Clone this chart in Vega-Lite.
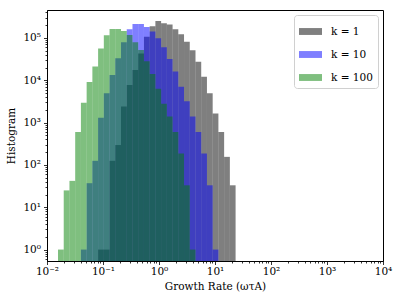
{
  "$schema": "https://vega.github.io/schema/vega-lite/v6.json",
  "width": 336,
  "height": 251,
  "autosize": {"type": "none"},
  "padding": {"left": 47, "top": 10, "right": 16, "bottom": 40},
  "config": {
    "view": {"stroke": "black", "strokeWidth": 1},
    "font": "DejaVu Serif",
    "axis": {
      "grid": false,
      "domainColor": "black",
      "tickColor": "black",
      "labelColor": "black",
      "titleColor": "black",
      "labelFont": "DejaVu Serif",
      "titleFont": "DejaVu Serif",
      "labelFontSize": 10.5,
      "titleFontSize": 10.5,
      "titleFontWeight": "normal",
      "labelOverlap": false,
      "labelFlush": false,
      "labelBound": false,
      "tickWidth": 0.8
    },
    "legend": {
      "labelFont": "DejaVu Serif",
      "labelFontSize": 10.5,
      "labelColor": "black"
    }
  },
  "data": {
    "values": [
      {"k": "k = 1", "lo": 0.08177, "hi": 0.10347, "count": 1},
      {"k": "k = 1", "lo": 0.10347, "hi": 0.13096, "count": 1},
      {"k": "k = 1", "lo": 0.13096, "hi": 0.16574, "count": 125},
      {"k": "k = 1", "lo": 0.16574, "hi": 0.20977, "count": 295},
      {"k": "k = 1", "lo": 0.20977, "hi": 0.26546, "count": 2400},
      {"k": "k = 1", "lo": 0.26546, "hi": 0.33597, "count": 7700},
      {"k": "k = 1", "lo": 0.33597, "hi": 0.42521, "count": 17400},
      {"k": "k = 1", "lo": 0.42521, "hi": 0.53816, "count": 43000},
      {"k": "k = 1", "lo": 0.53816, "hi": 0.68108, "count": 107000},
      {"k": "k = 1", "lo": 0.68108, "hi": 0.86196, "count": 190000},
      {"k": "k = 1", "lo": 0.86196, "hi": 1.0909, "count": 251000},
      {"k": "k = 1", "lo": 1.0909, "hi": 1.3807, "count": 221000},
      {"k": "k = 1", "lo": 1.3807, "hi": 1.7474, "count": 209000},
      {"k": "k = 1", "lo": 1.7474, "hi": 2.2115, "count": 160000},
      {"k": "k = 1", "lo": 2.2115, "hi": 2.799, "count": 122000},
      {"k": "k = 1", "lo": 2.799, "hi": 3.5424, "count": 81000},
      {"k": "k = 1", "lo": 3.5424, "hi": 4.4832, "count": 51000},
      {"k": "k = 1", "lo": 4.4832, "hi": 5.6741, "count": 27500},
      {"k": "k = 1", "lo": 5.6741, "hi": 7.1812, "count": 12100},
      {"k": "k = 1", "lo": 7.1812, "hi": 9.0884, "count": 4900},
      {"k": "k = 1", "lo": 9.0884, "hi": 11.503, "count": 1650},
      {"k": "k = 1", "lo": 11.503, "hi": 14.558, "count": 600},
      {"k": "k = 1", "lo": 14.558, "hi": 18.425, "count": 155},
      {"k": "k = 1", "lo": 18.425, "hi": 23.318, "count": 33},
      {"k": "k = 10", "lo": 0.04033, "hi": 0.05104, "count": 1},
      {"k": "k = 10", "lo": 0.05104, "hi": 0.0646, "count": 37},
      {"k": "k = 10", "lo": 0.0646, "hi": 0.08177, "count": 125},
      {"k": "k = 10", "lo": 0.08177, "hi": 0.10347, "count": 1300},
      {"k": "k = 10", "lo": 0.10347, "hi": 0.13096, "count": 4900},
      {"k": "k = 10", "lo": 0.13096, "hi": 0.16574, "count": 13300},
      {"k": "k = 10", "lo": 0.16574, "hi": 0.20977, "count": 33000},
      {"k": "k = 10", "lo": 0.20977, "hi": 0.26546, "count": 78600},
      {"k": "k = 10", "lo": 0.26546, "hi": 0.33597, "count": 160000},
      {"k": "k = 10", "lo": 0.33597, "hi": 0.42521, "count": 212000},
      {"k": "k = 10", "lo": 0.42521, "hi": 0.53816, "count": 214000},
      {"k": "k = 10", "lo": 0.53816, "hi": 0.68108, "count": 182000},
      {"k": "k = 10", "lo": 0.68108, "hi": 0.86196, "count": 141000},
      {"k": "k = 10", "lo": 0.86196, "hi": 1.0909, "count": 98000},
      {"k": "k = 10", "lo": 1.0909, "hi": 1.3807, "count": 60000},
      {"k": "k = 10", "lo": 1.3807, "hi": 1.7474, "count": 32000},
      {"k": "k = 10", "lo": 1.7474, "hi": 2.2115, "count": 16000},
      {"k": "k = 10", "lo": 2.2115, "hi": 2.799, "count": 7000},
      {"k": "k = 10", "lo": 2.799, "hi": 3.5424, "count": 3200},
      {"k": "k = 10", "lo": 3.5424, "hi": 4.4832, "count": 1400},
      {"k": "k = 10", "lo": 4.4832, "hi": 5.6741, "count": 600},
      {"k": "k = 10", "lo": 5.6741, "hi": 7.1812, "count": 186},
      {"k": "k = 10", "lo": 7.1812, "hi": 9.0884, "count": 33},
      {"k": "k = 10", "lo": 9.0884, "hi": 11.503, "count": 1},
      {"k": "k = 100", "lo": 0.01572, "hi": 0.01989, "count": 1},
      {"k": "k = 100", "lo": 0.01989, "hi": 0.02518, "count": 25},
      {"k": "k = 100", "lo": 0.02518, "hi": 0.03187, "count": 42},
      {"k": "k = 100", "lo": 0.03187, "hi": 0.04033, "count": 600},
      {"k": "k = 100", "lo": 0.04033, "hi": 0.05104, "count": 2950},
      {"k": "k = 100", "lo": 0.05104, "hi": 0.0646, "count": 9100},
      {"k": "k = 100", "lo": 0.0646, "hi": 0.08177, "count": 21000},
      {"k": "k = 100", "lo": 0.08177, "hi": 0.10347, "count": 56000},
      {"k": "k = 100", "lo": 0.10347, "hi": 0.13096, "count": 115000},
      {"k": "k = 100", "lo": 0.13096, "hi": 0.16574, "count": 162000},
      {"k": "k = 100", "lo": 0.16574, "hi": 0.20977, "count": 162000},
      {"k": "k = 100", "lo": 0.20977, "hi": 0.26546, "count": 145000},
      {"k": "k = 100", "lo": 0.26546, "hi": 0.33597, "count": 117000},
      {"k": "k = 100", "lo": 0.33597, "hi": 0.42521, "count": 79000},
      {"k": "k = 100", "lo": 0.42521, "hi": 0.53816, "count": 52000},
      {"k": "k = 100", "lo": 0.53816, "hi": 0.68108, "count": 28000},
      {"k": "k = 100", "lo": 0.68108, "hi": 0.86196, "count": 14000},
      {"k": "k = 100", "lo": 0.86196, "hi": 1.0909, "count": 6300},
      {"k": "k = 100", "lo": 1.0909, "hi": 1.3807, "count": 2800},
      {"k": "k = 100", "lo": 1.3807, "hi": 1.7474, "count": 1400},
      {"k": "k = 100", "lo": 1.7474, "hi": 2.2115, "count": 600},
      {"k": "k = 100", "lo": 2.2115, "hi": 2.799, "count": 186},
      {"k": "k = 100", "lo": 2.799, "hi": 3.5424, "count": 33},
      {"k": "k = 100", "lo": 3.5424, "hi": 4.4832, "count": 1}
    ]
  },
  "mark": {"type": "bar", "opacity": 0.5},
  "encoding": {
    "x": {
      "field": "lo",
      "type": "quantitative",
      "title": "Growth Rate (ωτA)",
      "scale": {"type": "log", "domain": [0.01, 10000], "nice": false},
      "axis": {
        "values": [0.01,0.02,0.03,0.04,0.05,0.06,0.07,0.08,0.09,0.1,0.2,0.3,0.4,0.5,0.6,0.7,0.8,0.9,1,2,3,4,5,6,7,8,9,10,20,30,40,50,60,70,80,90,100,200,300,400,500,600,700,800,900,1000,2000,3000,4000,5000,6000,7000,8000,9000,10000],
        "labelExpr": "abs(log(datum.value)/LN10 - round(log(datum.value)/LN10)) < 0.001 ? '10' + replace(replace(replace(replace(replace(replace(replace(replace('' + round(log(datum.value)/LN10), '-', '⁻'), '0', '⁰'), '1', '¹'), '2', '²'), '3', '³'), '4', '⁴'), '5', '⁵'), '6', '⁶') : ''",
        "tickSize": {"condition": {"test": "abs(log(datum.value)/LN10 - round(log(datum.value)/LN10)) < 0.001", "value": 3.5}, "value": 2},
        "labelPadding": 2,
        "titlePadding": 4
      }
    },
    "x2": {"field": "hi"},
    "y": {
      "field": "count",
      "type": "quantitative",
      "title": "Histogram",
      "scale": {"type": "log", "domain": [0.537, 457000], "nice": false},
      "axis": {
        "values": [0.6,0.7,0.8,0.9,1,2,3,4,5,6,7,8,9,10,20,30,40,50,60,70,80,90,100,200,300,400,500,600,700,800,900,1000,2000,3000,4000,5000,6000,7000,8000,9000,10000,20000,30000,40000,50000,60000,70000,80000,90000,100000,200000,300000,400000],
        "labelExpr": "abs(log(datum.value)/LN10 - round(log(datum.value)/LN10)) < 0.001 ? '10' + replace(replace(replace(replace(replace(replace(replace(replace('' + round(log(datum.value)/LN10), '-', '⁻'), '0', '⁰'), '1', '¹'), '2', '²'), '3', '³'), '4', '⁴'), '5', '⁵'), '6', '⁶') : ''",
        "tickSize": {"condition": {"test": "abs(log(datum.value)/LN10 - round(log(datum.value)/LN10)) < 0.001", "value": 3.5}, "value": 2},
        "labelPadding": 3,
        "titlePadding": 6
      }
    },
    "y2": {"datum": 0.537},
    "color": {
      "field": "k",
      "type": "nominal",
      "scale": {"domain": ["k = 1", "k = 10", "k = 100"], "range": ["#000000", "#0000ff", "#008000"]},
      "legend": {
        "title": null,
        "orient": "top-right",
        "offset": 5,
        "padding": 5,
        "strokeColor": "#d0d0d0",
        "fillColor": "white",
        "cornerRadius": 3,
        "symbolType": "M-1,-0.3H1V0.3H-1Z",
        "symbolSize": 529,
        "symbolOpacity": 0.5,
        "symbolStrokeWidth": 0,
        "labelOffset": 9,
        "rowPadding": 6
      }
    }
  }
}
